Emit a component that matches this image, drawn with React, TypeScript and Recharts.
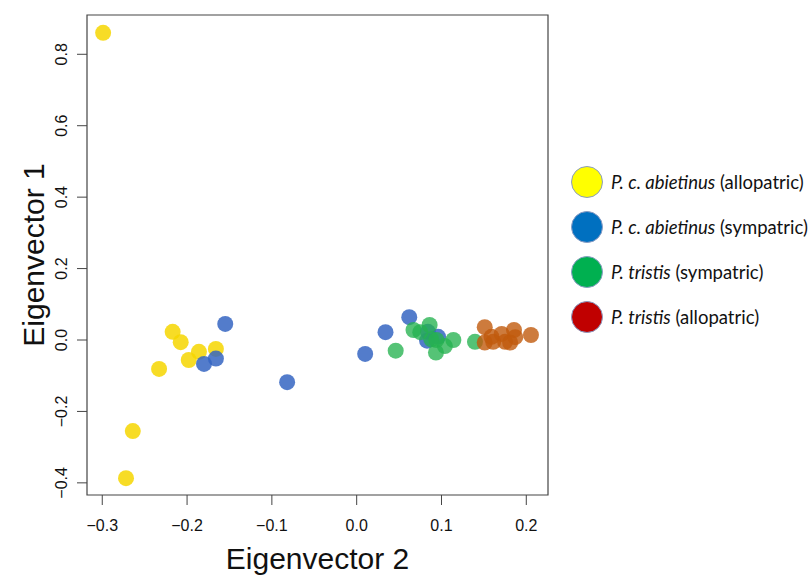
import { ScatterChart, Scatter, XAxis, YAxis, ReferenceArea } from 'recharts';

// point values: [eigenvector 2, eigenvector 1]
const abietinusAllopatric: [number, number][] = [
  [-0.299, 0.86], [-0.217, 0.023], [-0.2075, -0.006], [-0.233, -0.081], [-0.198, -0.056],
  [-0.186, -0.033], [-0.166, -0.025], [-0.264, -0.255], [-0.272, -0.387],
];
const abietinusSympatric: [number, number][] = [
  [-0.155, 0.045], [-0.18, -0.067], [-0.166, -0.052], [-0.082, -0.118], [0.01, -0.039],
  [0.034, 0.022], [0.062, 0.064], [0.084, 0.023], [0.083, -0.002], [0.096, 0.009],
];
const tristisSympatric: [number, number][] = [
  [0.046, -0.03], [0.067, 0.028], [0.075, 0.022], [0.086, 0.042], [0.088, 0.002],
  [0.094, 0.0], [0.0935, -0.035], [0.104, -0.017], [0.114, 0.0], [0.1395, -0.005],
];
const tristisAllopatric: [number, number][] = [
  [0.151, 0.036], [0.151, -0.007], [0.161, -0.005], [0.159, 0.009], [0.171, 0.017],
  [0.175, -0.005], [0.181, -0.007], [0.1855, 0.028], [0.187, 0.008], [0.2055, 0.014],
];

const xTicks = [-0.3, -0.2, -0.1, 0.0, 0.1, 0.2];
const yTicks = [-0.4, -0.2, 0.0, 0.2, 0.4, 0.6, 0.8];

const legendItalic = ['P. c. abietinus', 'P. c. abietinus', 'P. tristis', 'P. tristis'];
const legendNote = ['(allopatric)', '(sympatric)', '(sympatric)', '(allopatric)'];
const legendColors = ['#FFFF00', '#0070C0', '#00B050', '#C00000'];

const series = [
  { pts: abietinusAllopatric, fill: '#F6D600', opacity: 0.85 },
  { pts: abietinusSympatric, fill: '#3565C2', opacity: 0.85 },
  { pts: tristisSympatric, fill: '#25B24F', opacity: 0.78 },
  { pts: tristisAllopatric, fill: '#C05A0C', opacity: 0.8 },
];

const fmt = (v: number) => (v < 0 ? '\u2212' + Math.abs(v).toFixed(1) : v.toFixed(1));
const font = '"Liberation Sans", Arial, sans-serif';

const XTick = ({ x, payload }: any) => (
  <text x={x} y={531} textAnchor="middle" fontSize={16} fontFamily={font} fill="#111">
    {fmt(payload.value)}
  </text>
);

const YTick = ({ y, payload }: any) => (
  <text
    transform={`translate(67,${y}) rotate(-90)`}
    textAnchor="middle"
    fontSize={16}
    fontFamily={font}
    fill="#111"
  >
    {fmt(payload.value)}
  </text>
);

const Dot = (props: any) => (
  <circle cx={props.cx} cy={props.cy} r={8} fill={props.fill} fillOpacity={props.fillOpacity} />
);

function SpeciesLegend() {
  return (
    <div
      style={{
        position: 'absolute',
        left: 570,
        top: 165,
        width: 238,
        fontFamily: 'Lato, "Open Sans", sans-serif',
        fontSize: 18.5,
        color: '#111',
      }}
    >
      {legendItalic.map((name, i) => (
        <div key={i} style={{ display: 'flex', alignItems: 'center', height: 33, marginBottom: i < 3 ? 12 : 0 }}>
          <svg width={34} height={34} style={{ marginRight: 7, flex: 'none' }}>
            <circle cx={17} cy={17} r={15.5} fill={legendColors[i]} stroke="#8a9cc4" strokeWidth={1} />
          </svg>
          <span style={{ whiteSpace: 'nowrap' }}>
            <i>{name}</i> {legendNote[i]}
          </span>
        </div>
      ))}
    </div>
  );
}

export default function App() {
  return (
    <div style={{ position: 'absolute', left: 0, top: 0, width: 808, height: 578, background: '#fff' }}>
      <ScatterChart width={808} height={578} margin={{ top: 15, right: 260, bottom: 0, left: 0 }}>
        <XAxis
          type="number"
          dataKey="x"
          domain={[-0.318, 0.2256]}
          ticks={xTicks}
          allowDataOverflow
          height={83}
          axisLine={false}
          tickSize={10}
          tickLine={{ stroke: '#444' }}
          tick={<XTick />}
          label={{
            content: () => (
              <text x={317.5} y={569} textAnchor="middle" fontSize={30} fontFamily={font} fill="#111">
                Eigenvector 2
              </text>
            ),
          }}
        />
        <YAxis
          type="number"
          dataKey="y"
          domain={[-0.434, 0.91]}
          ticks={yTicks}
          allowDataOverflow
          width={87}
          axisLine={false}
          tickSize={10}
          tickLine={{ stroke: '#444' }}
          tick={<YTick />}
          label={{
            content: () => (
              <text
                transform="translate(44,255) rotate(-90)"
                textAnchor="middle"
                fontSize={30}
                fontFamily={font}
                fill="#111"
              >
                Eigenvector 1
              </text>
            ),
          }}
        />
        <ReferenceArea
          x1={-0.318}
          x2={0.2256}
          y1={-0.434}
          y2={0.91}
          fill="none"
          stroke="#444"
          strokeWidth={1.2}
          ifOverflow="visible"
        />
        {series.map((s, i) => (
          <Scatter
            key={i}
            data={s.pts.map(([x, y]) => ({ x, y }))}
            fill={s.fill}
            fillOpacity={s.opacity}
            shape={<Dot />}
            isAnimationActive={false}
          />
        ))}
      </ScatterChart>
      <SpeciesLegend />
    </div>
  );
}
